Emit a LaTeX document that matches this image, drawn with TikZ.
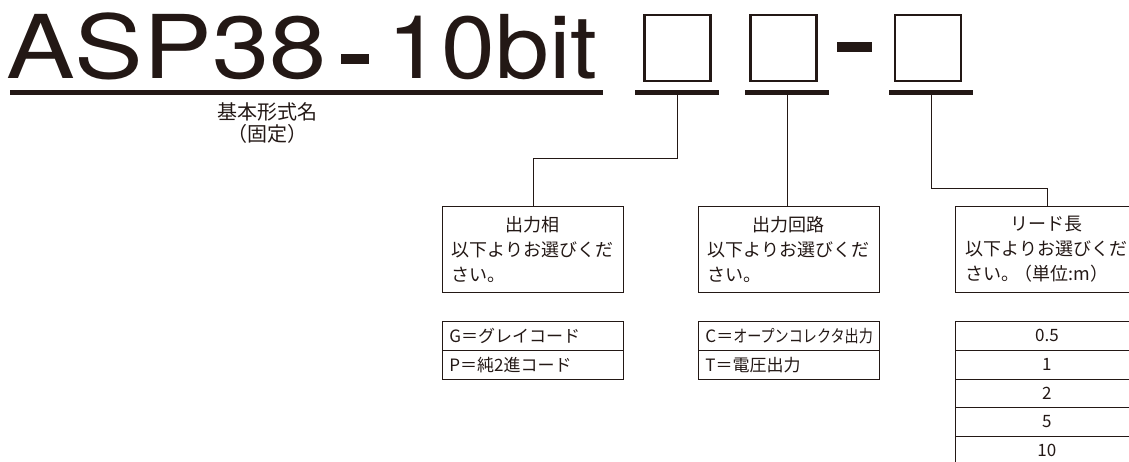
\documentclass[tikz,border=0pt]{standalone}
\usepackage{fontspec}
\setmainfont{TeX Gyre Heros}
\newfontfamily\jfont{Noto Sans CJK JP}
\usepackage{tikz}
\usetikzlibrary{positioning,calc}
\definecolor{ink}{RGB}{35,24,21}

\begin{document}
\begin{tikzpicture}[x=1pt,y=-1pt,
  jt/.style={font=\jfont\fontsize{18}{25}\selectfont,text=ink},
  sel/.style={jt,draw=ink,line width=0.8pt,minimum width=181pt,minimum height=86pt,anchor=north west,inner sep=0pt,text width=162pt,align=left},
  cell/.style={draw=ink,line width=0.8pt,minimum width=181pt,minimum height=28.75pt,anchor=north west,inner sep=0pt,font=\jfont\fontsize{17}{17}\selectfont,text=ink},
  slot/.style={draw=ink,line width=2.3pt,minimum width=66pt,minimum height=66pt,inner sep=0pt},
  bar/.style={fill=ink,minimum height=5pt,inner sep=0pt},
  w/.style={draw=ink,line width=0.8pt}
]
\clip (0,0) rectangle (1129,461);
\node[anchor=base west,inner sep=0pt,text=ink,font=\fontsize{88}{88}\selectfont] (model) at (6,78)
  {\scalebox{1.17}[1]{ASP38}\hspace{14pt}\rule[14pt]{28pt}{10pt}\hspace{19pt}\scalebox{1.10}[1]{10bit}};
\node[bar,minimum width=593pt] (u0) at (306.5,92.5) {};
\node[slot] (s1) at (677.5,48) {};
\node[slot] (s2) at (783.5,48) {};
\node[fill=ink,minimum width=35pt,minimum height=10pt,inner sep=0pt] (dash) at (854.5,47) {};
\node[slot] (s3) at (928,48) {};
\node[bar,minimum width=84pt] (u1) at (677,92.5) {};
\node[bar,minimum width=84pt] (u2) at (787,92.5) {};
\node[bar,minimum width=84pt] (u3) at (931,92.5) {};
\node[jt,font=\jfont\fontsize{20}{22}\selectfont,align=center,inner sep=0pt] (fixed) at (267,123) {基本形式名\\（固定）};
\node[sel] (phase) at (442,206) {\makebox[162pt]{出力相}\\以下よりお選びくだ\\さい。};
\node[sel] (circuit) at (698,206) {\makebox[162pt]{出力回路}\\以下よりお選びくだ\\さい。};
\node[sel,minimum width=183pt] (lead) at (955,206) {\makebox[162pt]{リード長}\\以下よりお選びくだ\\さい。\kern-5pt（単位:m）};
\node[cell,text width=167pt,align=left] (g) at (442,321) {G＝グレイコード};
\node[cell,text width=167pt,align=left] (p) at (442,350) {P＝純2進コード};
\node[cell,text width=167pt,align=left] (c) at (698,321) {C＝\scalebox{0.83}[1]{オープンコレクタ出力}};
\node[cell,text width=167pt,align=left] (t) at (698,350) {T＝電圧出力};
\node[cell,minimum width=183pt] (l1) at (955,321) {0.5};
\node[cell,minimum width=183pt] (l2) at (955,349.75) {1};
\node[cell,minimum width=183pt] (l3) at (955,378.5) {2};
\node[cell,minimum width=183pt] (l4) at (955,407.25) {5};
\node[cell,minimum width=183pt] (l5) at (955,436) {10};
\draw[w] (u1.south) -- ++(0,63) -| (phase.north);
\draw[w] (u2.south) -- (u2.south |- circuit.north);
\draw[w] (u3.south) -- ++(0,93) -| (lead.north);
\end{tikzpicture}
\end{document}
